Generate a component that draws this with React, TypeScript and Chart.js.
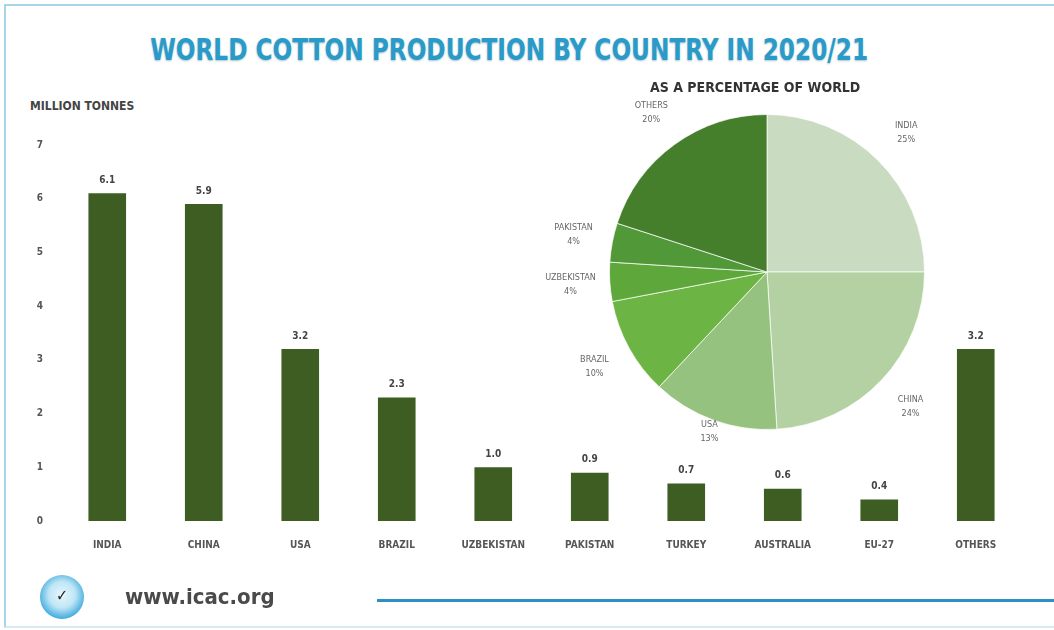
import React, { useEffect, useRef } from "react";
import { Chart, registerables } from "chart.js";

Chart.register(...registerables);

const categories = ["INDIA", "CHINA", "USA", "BRAZIL", "UZBEKISTAN", "PAKISTAN", "TURKEY", "AUSTRALIA", "EU-27", "OTHERS"];
const production = [6.1, 5.9, 3.2, 2.3, 1.0, 0.9, 0.7, 0.6, 0.4, 3.2];
const yMin = 0;
const yMax = 7;
const yStep = 1;

const pieLabels = ["INDIA", "CHINA", "USA", "BRAZIL", "UZBEKISTAN", "PAKISTAN", "OTHERS"];
const pieShares = [25, 24, 13, 10, 4, 4, 20];
const pieColors = ["#c9dcc1", "#b3d1a3", "#95c27e", "#6cb443", "#5ea83b", "#519938", "#457f2c"];

const FONT = "'DejaVu Sans Condensed', 'Liberation Sans', sans-serif";

const barValueLabels = {
  id: "barValueLabels",
  afterDatasetsDraw(chart: any) {
    const ctx = chart.ctx;
    const meta = chart.getDatasetMeta(0);
    ctx.save();
    ctx.font = `bold 10px ${FONT}`;
    ctx.fillStyle = "#444";
    ctx.textAlign = "center";
    ctx.textBaseline = "bottom";
    meta.data.forEach((bar: any, i: number) => {
      ctx.fillText(production[i].toFixed(1), bar.x, bar.y - 8);
    });
    ctx.restore();
  },
};

const pieOuterLabels = {
  id: "pieOuterLabels",
  afterDatasetsDraw(chart: any) {
    const ctx = chart.ctx;
    const meta = chart.getDatasetMeta(0);
    ctx.save();
    ctx.font = `9px ${FONT}`;
    ctx.fillStyle = "#666";
    ctx.textAlign = "center";
    ctx.textBaseline = "middle";
    meta.data.forEach((arc: any, i: number) => {
      const mid = (arc.startAngle + arc.endAngle) / 2;
      const r = arc.outerRadius * (pieLabels[i] === "USA" ? 1.08 : 1.25);
      const x = arc.x + Math.cos(mid) * r;
      const y = arc.y + Math.sin(mid) * r;
      ctx.fillText(pieLabels[i], x, y - 7);
      ctx.fillText(pieShares[i] + "%", x, y + 7);
    });
    ctx.restore();
  },
};

function BarChart() {
  const ref = useRef<HTMLCanvasElement>(null);
  useEffect(() => {
    const chart = new Chart(ref.current!, {
      type: "bar",
      data: {
        labels: categories,
        datasets: [
          {
            data: production,
            backgroundColor: "#3d5d22",
            barPercentage: 0.78,
            categoryPercentage: 0.5,
          },
        ],
      },
      options: {
        animation: false,
        responsive: false,
        layout: { padding: { top: 145, right: 30, left: 0, bottom: 0 } },
        plugins: { legend: { display: false }, tooltip: { enabled: false } },
        scales: {
          x: {
            grid: { display: false, drawTicks: false },
            border: { display: false },
            ticks: { color: "#555", font: { family: FONT, size: 10, weight: "bold" }, padding: 18, maxRotation: 0, autoSkip: false },
            afterFit: (s: any) => { s.height = 109; },
          },
          y: {
            min: yMin,
            max: yMax,
            grid: { display: false, drawTicks: false },
            border: { display: false },
            ticks: { stepSize: yStep, color: "#555", font: { family: FONT, size: 10, weight: "bold" }, padding: 16 },
            afterFit: (s: any) => { s.width = 59; },
          },
        },
      },
      plugins: [barValueLabels],
    });
    return () => chart.destroy();
  }, []);
  return <canvas ref={ref} width={1054} height={630} style={{ position: "absolute", left: 0, top: 0 }} />;
}

function PieChart() {
  const ref = useRef<HTMLCanvasElement>(null);
  useEffect(() => {
    const chart = new Chart(ref.current!, {
      type: "pie",
      data: {
        labels: pieLabels,
        datasets: [{ data: pieShares, backgroundColor: pieColors, borderColor: "rgba(255,255,255,0.7)", borderWidth: 1 }],
      },
      options: {
        animation: false,
        responsive: false,
        layout: { padding: { left: 92, right: 92, top: 42, bottom: 42 } },
        plugins: { legend: { display: false }, tooltip: { enabled: false } },
      },
      plugins: [pieOuterLabels],
    });
    return () => chart.destroy();
  }, []);
  return <canvas ref={ref} width={500} height={400} style={{ position: "absolute", left: 517, top: 72 }} />;
}

export default function App() {
  return (
    <div style={{ position: "fixed", left: 0, top: 0, width: 1054, height: 630, background: "#fff", overflow: "hidden" }}>
      <div style={{ position: "absolute", left: 4, top: 4, width: 1070, height: 620, borderLeft: "2px solid #a8d4e8", borderTop: "2px solid #a8d4e8", borderBottom: "2px solid #d6ebf3" }} />
      <div
        style={{
          position: "absolute", left: 8, width: 1000, top: 32, textAlign: "center",
          fontFamily: FONT, fontWeight: "bold", fontSize: 30, color: "#2a9bc9",
          textShadow: "0 1px 2px rgba(20,80,110,0.35)", transform: "scaleX(0.86)", transformOrigin: "508px 0",
          whiteSpace: "nowrap",
        }}
      >
        WORLD COTTON PRODUCTION BY COUNTRY IN 2020/21
      </div>
      <div style={{ position: "absolute", left: 30, top: 99, fontFamily: FONT, fontWeight: "bold", fontSize: 12, color: "#444" }}>
        MILLION TONNES
      </div>
      <BarChart />
      <PieChart />
      <div style={{ position: "absolute", left: 650, top: 79, fontFamily: FONT, fontWeight: "bold", fontSize: 14, color: "#333" }}>
        AS A PERCENTAGE OF WORLD
      </div>
      <div
        style={{
          position: "absolute", left: 40, top: 575, width: 44, height: 44, borderRadius: "50%",
          background: "radial-gradient(circle at 50% 45%, #e8f6fc 0%, #bfe6f6 40%, #3aa8dc 75%, #2a90c8 100%)",
          display: "flex", alignItems: "center", justifyContent: "center",
        }}
      >
        <span style={{ fontFamily: FONT, fontWeight: "bold", fontSize: 16, color: "#222", marginTop: -4 }}>✓</span>
      </div>
      <div style={{ position: "absolute", left: 125, top: 584, fontFamily: FONT, fontWeight: "bold", fontSize: 22, color: "#4a4a4a" }}>
        www.icac.org
      </div>
      <div style={{ position: "absolute", left: 377, top: 599, width: 680, height: 3, background: "#2e8fc2" }} />
    </div>
  );
}
